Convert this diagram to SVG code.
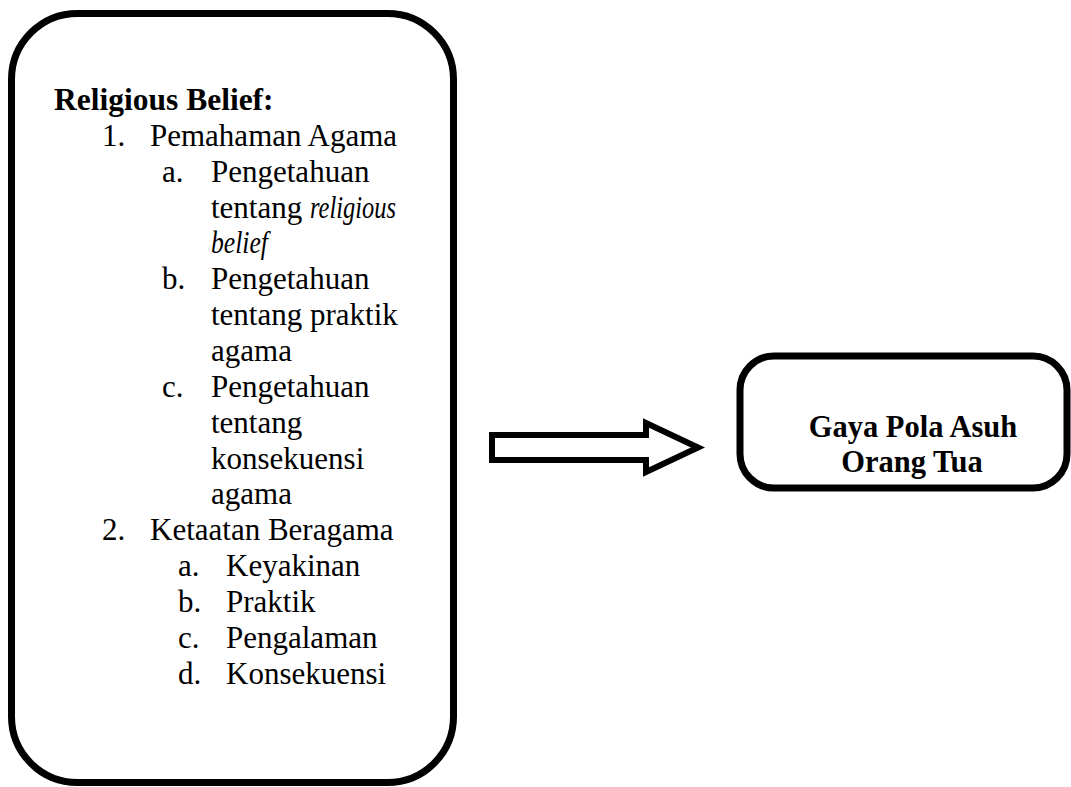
<svg xmlns="http://www.w3.org/2000/svg" width="1071" height="787" viewBox="0 0 1071 787">
<style>
.box{fill:#fff;stroke:#000;stroke-width:7}
.t{font-family:"Liberation Serif","Times New Roman",serif;font-size:31px;fill:#000}
.b{font-weight:bold;font-size:31.5px}
.i{font-style:italic}
.arrow{fill:#fff;stroke:#000;stroke-width:6;stroke-linejoin:miter}
</style>
<rect width="1071" height="787" fill="#fff"/>
<g id="node-religious-belief">
<rect class="box" x="11.5" y="13.5" width="442" height="769" rx="66" ry="66"/>
<text class="t b" x="54" y="110" font-size="32">Religious Belief:</text>
<text class="t" x="102" y="146">1.</text><text class="t" x="150" y="146">Pemahaman Agama</text>
<text class="t" x="162" y="182">a.</text><text class="t" x="211" y="182">Pengetahuan</text>
<text class="t" x="211" y="217.5">tentang</text>
<text class="t i" x="310" y="217.5" textLength="86" lengthAdjust="spacingAndGlyphs">religious</text>
<text class="t i" x="211" y="253" textLength="57" lengthAdjust="spacingAndGlyphs">belief</text>
<text class="t" x="162" y="289">b.</text><text class="t" x="211" y="289">Pengetahuan</text>
<text class="t" x="211" y="325">tentang praktik</text>
<text class="t" x="211" y="361">agama</text>
<text class="t" x="162" y="397">c.</text><text class="t" x="211" y="397">Pengetahuan</text>
<text class="t" x="211" y="432.5">tentang</text>
<text class="t" x="211" y="468.5">konsekuensi</text>
<text class="t" x="211" y="504">agama</text>
<text class="t" x="102" y="540">2.</text><text class="t" x="150" y="540">Ketaatan Beragama</text>
<text class="t" x="178" y="576">a.</text><text class="t" x="226" y="576">Keyakinan</text>
<text class="t" x="178" y="612">b.</text><text class="t" x="226" y="612">Praktik</text>
<text class="t" x="178" y="648">c.</text><text class="t" x="226" y="648">Pengalaman</text>
<text class="t" x="178" y="684">d.</text><text class="t" x="226" y="684">Konsekuensi</text>
</g>
<g id="connectors">
<path class="arrow" d="M492,435 L646,435 L646,423 L698,447.5 L646,472 L646,460 L492,460 Z"/>
</g>
<g id="node-gaya-pola-asuh">
<rect class="box" x="740" y="356" width="327" height="132" rx="34" ry="34"/>
<text class="t b" x="913" y="437" text-anchor="middle" font-size="30.5" style="font-size:30.5px">Gaya Pola Asuh</text>
<text class="t b" x="912" y="472" text-anchor="middle" style="font-size:30.5px">Orang Tua</text>
</g>
</svg>
